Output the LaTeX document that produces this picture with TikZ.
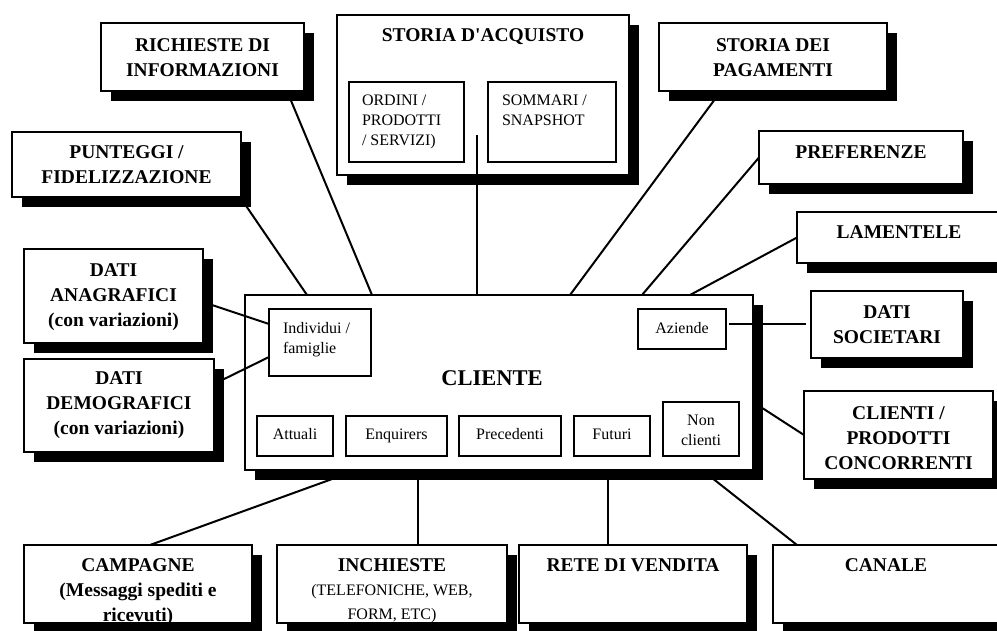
\documentclass[tikz,border=0pt]{standalone}
\usepackage{fontspec}
\setmainfont{Liberation Serif}[Ligatures=TeXOff]
\usetikzlibrary{shadows}
\pgfdeclarelayer{background}
\pgfsetlayers{background,main}
\newcommand{\bigbold}{\fontsize{19.5}{25}\selectfont\bfseries}
\newcommand{\smallrm}{\fontsize{16}{24}\selectfont\mdseries}
\newcommand{\innerrm}{\fontsize{16}{20}\selectfont\mdseries}
\newcommand{\clientfont}{\fontsize{22.5}{27}\selectfont\bfseries}
% box text: width, height, top gap, (left gap), text
\newcommand{\boxc}[4]{\parbox[c][#2pt][t]{#1pt}{\centering\vspace*{#3pt}#4}}
\newcommand{\boxl}[5]{\parbox[c][#2pt][t]{#1pt}{\raggedright\leftskip=#4pt\relax\vspace*{#3pt}#5}}
\tikzset{
  panel/.style={draw=black, line width=2pt, fill=white, inner sep=0pt, outer sep=0pt,
    anchor=north west, font=\bigbold,
    drop shadow={shadow xshift=10pt, shadow yshift=-10pt, fill=black, opacity=1}},
  subbox/.style={draw=black, line width=1.8pt, fill=white, inner sep=0pt, outer sep=0pt,
    anchor=north west, font=\innerrm},
  link/.style={line width=2pt, color=black},
}
\begin{document}
\begin{tikzpicture}[x=1pt, y=-1pt]
  \useasboundingbox (0,0) rectangle (997,630);
  % outer boxes
  \node[panel] (rich) at (101,23) {\boxc{203}{68}{15.5}{RICHIESTE DI\\ INFORMAZIONI}};
  \node[panel] (punt) at (12,132) {\boxc{229}{65}{13.5}{PUNTEGGI /\\ FIDELIZZAZIONE}};
  \node[panel] (acq) at (337,15) {\boxc{292}{160}{13.5}{STORIA D'ACQUISTO}};
  \node[panel] (pag) at (659,23) {\boxc{228}{68}{15.5}{STORIA DEI\\ PAGAMENTI}};
  \node[panel] (pref) at (759,131) {\boxc{204}{53}{14.5}{PREFERENZE}};
  \node[panel] (lam) at (797,212) {\boxc{204}{51}{13.5}{LAMENTELE}};
  \node[panel] (anag) at (24,249) {\boxc{179}{94}{14.5}{DATI\\ ANAGRAFICI\\ (con variazioni)}};
  \node[panel] (demo) at (24,359) {\boxc{190}{93}{12.5}{DATI\\ DEMOGRAFICI\\ (con variazioni)}};
  \node[panel] (soc) at (811,291) {\boxc{152}{67}{14.5}{DATI\\ SOCIETARI}};
  \node[panel] (conc) at (804,391) {\boxc{189}{88}{15.5}{CLIENTI /\\ PRODOTTI\\ CONCORRENTI}};
  \node[panel] (camp) at (24,545) {\boxc{228}{78}{13.5}{CAMPAGNE\\ (Messaggi spediti e\\ ricevuti)}};
  \node[panel] (inch) at (277,545) {\boxc{230}{78}{13.5}{INCHIESTE\\ \smallrm (TELEFONICHE, WEB,\\ FORM, ETC)}};
  \node[panel] (rete) at (519,545) {\boxc{228}{78}{13.5}{RETE DI VENDITA}};
  \node[panel] (can) at (773,545) {\boxc{226}{78}{13.5}{CANALE}};
  \node[panel, font=\clientfont] (cliente) at (245,295) {\boxc{508}{175}{75.6}{CLIENTE\hspace*{14pt}}};

  % inner boxes
  \node[subbox] (ordini) at (349,82) {\boxl{115}{80}{12.7}{13}{ORDINI /\\ PRODOTTI\\ / SERVIZI)}};
  \node[subbox] (somm) at (488,82) {\boxl{128}{80}{12.7}{14}{SOMMARI /\\ SNAPSHOT}};
  \node[subbox] (indiv) at (269,309) {\boxl{102}{67}{13.4}{14}{Individui /\\ famiglie}};
  \node[subbox] (aziende) at (638,309) {\boxc{88}{40}{13.4}{Aziende}};
  \node[subbox] (attuali) at (257,416) {\boxc{76}{40}{12.7}{Attuali}};
  \node[subbox] (enq) at (346,416) {\boxc{101}{40}{12.7}{Enquirers}};
  \node[subbox] (prec) at (459,416) {\boxc{102}{40}{12.7}{Precedenti}};
  \node[subbox] (fut) at (574,416) {\boxc{76}{40}{12.7}{Futuri}};
  \node[subbox] (nonc) at (663,402) {\boxc{76}{54}{12.7}{Non\\ clienti}};

  % connectors behind the boxes
  \begin{pgfonlayer}{background}
    \draw[link] (287,0 |- rich.south) -- (372,0 |- cliente.north);
    \draw[link] (240,0 |- punt.south) -- (307,0 |- cliente.north);
    \draw[link] (721,0 |- pag.south) -- (570,0 |- cliente.north);
    \draw[link] (pref.west) -- (642,0 |- cliente.north);
    \draw[link] (lam.west) -- (690,0 |- cliente.north);
    \draw[link] (cliente.east |- 0,402) -- (conc.west);
    \draw[link] (357,0 |- cliente.south) -- (150,0 |- camp.north);
    \draw[link] (418,0 |- cliente.south) -- (418,0 |- inch.north);
    \draw[link] (608,0 |- cliente.south) -- (608,0 |- rete.north);
    \draw[link] (702,0 |- cliente.south) -- (797,0 |- can.north);
  \end{pgfonlayer}

  % connectors on top
  \coordinate (acqfoot) at (477,135);
  \draw[link] (acqfoot) -- (acqfoot |- cliente.north);
  \draw[link] (anag.east |- 0,302) -- (indiv.west |- 0,324);
  \draw[link] (demo.east |- 0,384) -- (indiv.west |- 0,357);
  \draw[link, shorten <=3pt, shorten >=5pt] (aziende.east |- 0,324) -- (soc.west |- 0,324);
\end{tikzpicture}
\end{document}
